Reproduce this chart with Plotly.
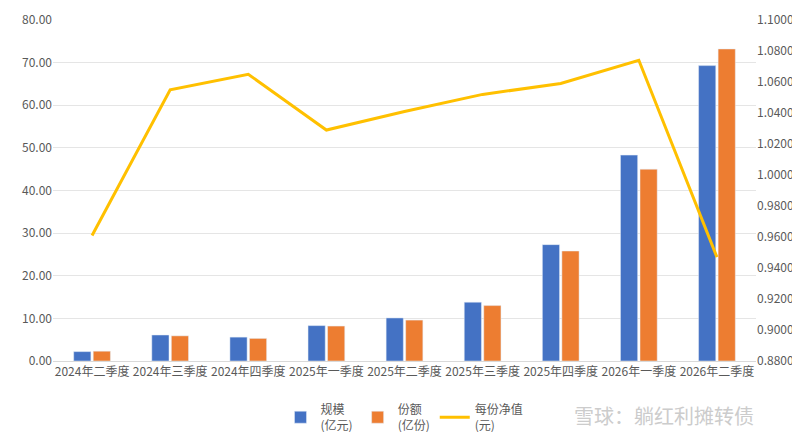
import plotly.graph_objects as go

categories = ["2024年二季度","2024年三季度","2024年四季度","2025年一季度","2025年二季度",
              "2025年三季度","2025年四季度","2026年一季度","2026年二季度"]
scale = [2.2, 6.1, 5.6, 8.3, 10.1, 13.8, 27.3, 48.3, 69.3]
shares = [2.3, 5.9, 5.3, 8.2, 9.6, 13.0, 25.8, 45.0, 73.2]
nav = [0.961, 1.055, 1.065, 1.029, 1.041, 1.052, 1.059, 1.074, 0.947]

fig = go.Figure()
fig.add_bar(x=categories, y=scale, name="规模<br>(亿元)", marker_color="#4472C4")
fig.add_bar(x=categories, y=shares, name="份额<br>(亿份)", marker_color="#ED7D31")
fig.add_scatter(x=categories, y=nav, name="每份净值<br>(元)", yaxis="y2", mode="lines",
                line=dict(color="#FFC000", width=3))

fig.update_layout(
    width=800, height=432, plot_bgcolor="white", paper_bgcolor="white",
    margin=dict(l=45, r=52, t=12, b=79, autoexpand=False),
    font=dict(family="Noto Sans CJK SC", size=12, color="#595959"),
    barmode="group", bargap=0.5, bargroupgap=0.12,
    xaxis=dict(showline=True, linecolor="#D9D9D9", tickfont=dict(size=12)),
    yaxis=dict(range=[0, 80], dtick=10, tickformat=".2f", gridcolor="#E5E5E5", zeroline=False),
    yaxis2=dict(range=[0.88, 1.10], dtick=0.02, tickformat=".4f", overlaying="y", side="right",
                showgrid=False, zeroline=False),
    legend=dict(orientation="h", x=0.5, xanchor="center", y=-0.1, yanchor="top",
                font=dict(size=12)),
    annotations=[dict(text="雪球：躺红利摊转债", x=1.0, y=-0.16, xref="paper", yref="paper",
                      xanchor="right", yanchor="middle", showarrow=False,
                      font=dict(size=20, color="#CCCCCC"))],
)
fig.write_html("out.html")
